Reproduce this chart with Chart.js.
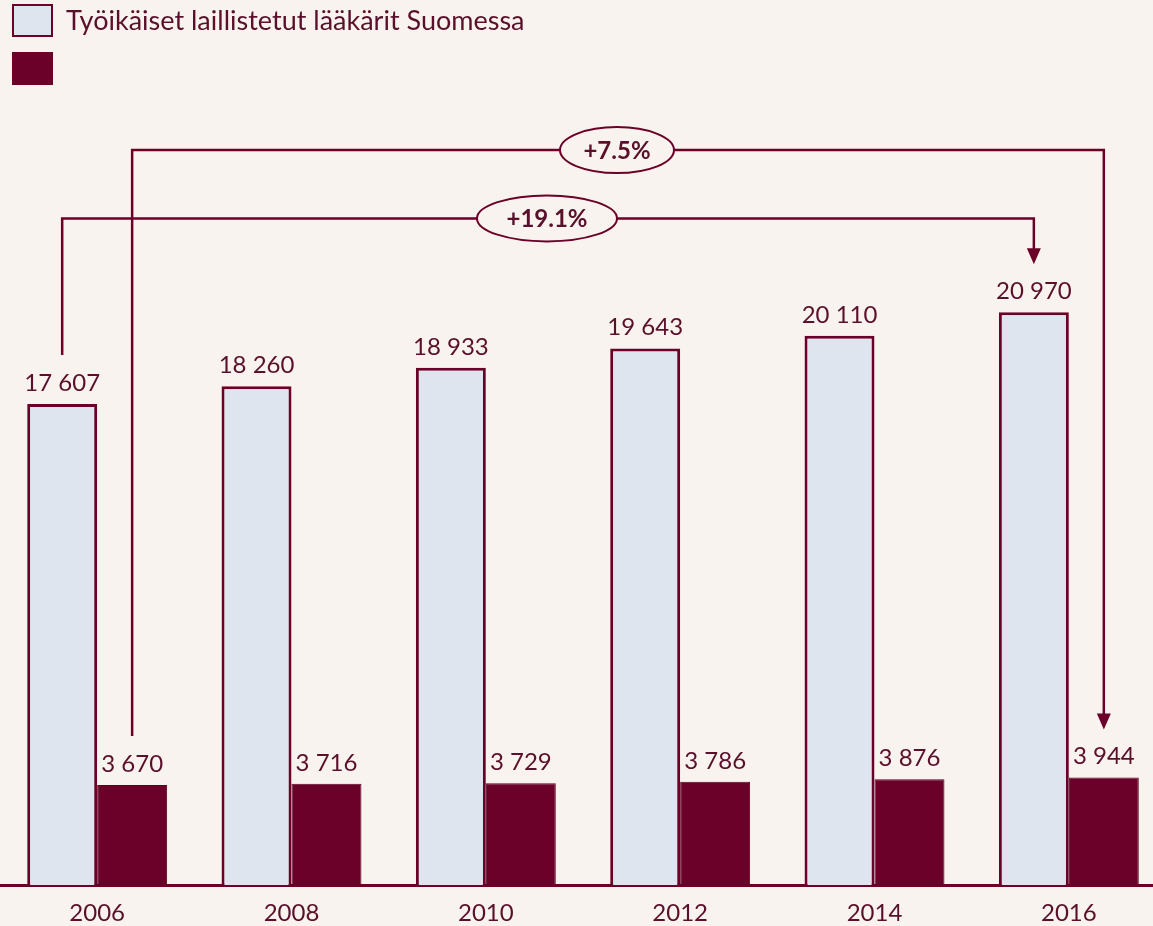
<!DOCTYPE html>
<html>
<head>
<meta charset="utf-8">
<script src="https://cdn.jsdelivr.net/npm/chart.js@4.4.1/dist/chart.umd.min.js"></script>
<style>
  html, body { margin: 0; padding: 0; background: #f8f3ee; overflow: hidden; }
  #wrap { width: 1166px; height: 926px; position: relative; }
</style>
</head>
<body>
<div id="wrap"><canvas id="myChart"></canvas></div>
<script>
// data
var years = ['2006', '2008', '2010', '2012', '2014', '2016'];
var tyoikaiset = [17607, 18260, 18933, 19643, 20110, 20970];
var toinenSarja = [3670, 3716, 3729, 3786, 3876, 3944];
var sarjaNimet = ['Työikäiset laillistetut lääkärit Suomessa', ''];
var muutokset = ['+19.1%', '+7.5%'];

var dark = '#6b0029';
var textCol = '#5a0f2b';
var fontName = 'Lato, "Open Sans", sans-serif';

function fmt(v) {
    return String(v).replace(/\B(?=(\d{3})+(?!\d))/g, ' ');
}

var extras = {
    id: 'extras',
    afterDatasetsDraw: function (chart) {
        var ctx = chart.ctx;
        var yScale = chart.scales.y;
        ctx.save();

        // value labels
        ctx.fillStyle = textCol;
        ctx.font = '24px ' + fontName;
        ctx.textAlign = 'center';
        ctx.textBaseline = 'alphabetic';
        chart.data.datasets.forEach(function (ds, i) {
            chart.getDatasetMeta(i).data.forEach(function (bar, j) {
                ctx.fillText(fmt(ds.data[j]), bar.x, bar.y - 13);
            });
        });

        // brackets: dataset index, level value, text, oval centre / half width
        var brackets = [[0, 24400, muutokset[0], 547, 70], [1, 26900, muutokset[1], 617, 57]];
        ctx.strokeStyle = dark;
        ctx.lineWidth = 2.5;
        brackets.forEach(function (b) {
            var meta = chart.getDatasetMeta(b[0]).data;
            var first = meta[0];
            var last = meta[meta.length - 1];
            var yLev = yScale.getPixelForValue(b[1]);
            var x1 = first.x, x2 = last.x;
            var yStart = first.y - 49;
            var yEnd = last.y - 48;
            ctx.beginPath();
            ctx.moveTo(x1, yStart);
            ctx.lineTo(x1, yLev);
            ctx.lineTo(x2, yLev);
            ctx.lineTo(x2, yEnd - 14);
            ctx.stroke();
            ctx.fillStyle = dark;
            ctx.beginPath();
            ctx.moveTo(x2 - 7, yEnd - 16);
            ctx.lineTo(x2 + 7, yEnd - 16);
            ctx.lineTo(x2, yEnd);
            ctx.closePath();
            ctx.fill();

            // oval with text
            var cx = b[3];
            ctx.beginPath();
            ctx.ellipse(cx, yLev, b[4], 23, 0, 0, Math.PI * 2);
            ctx.fillStyle = '#f8f3ee';
            ctx.fill();
            ctx.lineWidth = 2;
            ctx.stroke();
            ctx.lineWidth = 2.5;
            ctx.fillStyle = textCol;
            ctx.font = 'bold 24px ' + fontName;
            ctx.textBaseline = 'middle';
            ctx.fillText(b[2], cx, yLev + 1);
            ctx.textBaseline = 'alphabetic';
        });

        // legend
        var boxes = [[5, '#dfe5ee'], [53, dark]];
        boxes.forEach(function (bx, i) {
            ctx.fillStyle = bx[1];
            ctx.fillRect(13, bx[0], 39, 31);
            ctx.strokeStyle = dark;
            ctx.lineWidth = 2;
            ctx.strokeRect(13, bx[0], 39, 31);
            ctx.fillStyle = textCol;
            ctx.font = '27px ' + fontName;
            ctx.textAlign = 'left';
            ctx.textBaseline = 'middle';
            ctx.fillText(sarjaNimet[i], 66, bx[0] + 16);
        });
        ctx.restore();
    }
};

var ctx = document.getElementById('myChart').getContext('2d');
var myChart = new Chart(ctx, {
    type: 'bar',
    data: {
        labels: years,
        datasets: [{
            label: sarjaNimet[0],
            data: tyoikaiset,
            backgroundColor: '#dfe5ee',
            borderColor: dark,
            borderWidth: 3,
            borderSkipped: 'bottom'
        }, {
            label: sarjaNimet[1],
            data: toinenSarja,
            backgroundColor: dark,
            borderColor: '#5c0022',
            borderWidth: 1,
            borderSkipped: 'bottom'
        }]
    },
    options: {
        responsive: true,
        maintainAspectRatio: false,
        animation: false,
        categoryPercentage: 0.72,
        barPercentage: 1,
        layout: { padding: { top: 202, left: 0, right: 0, bottom: -16 } },
        plugins: {
            legend: { display: false },
            tooltip: { enabled: false }
        },
        scales: {
            x: {
                grid: { display: false, drawTicks: false },
                border: { color: dark, width: 3 },
                ticks: {
                    color: textCol,
                    font: { family: fontName, size: 24 },
                    padding: 14
                }
            },
            y: {
                display: false,
                min: 0,
                max: 25000
            }
        }
    },
    plugins: [extras]
});
</script>
</body>
</html>
